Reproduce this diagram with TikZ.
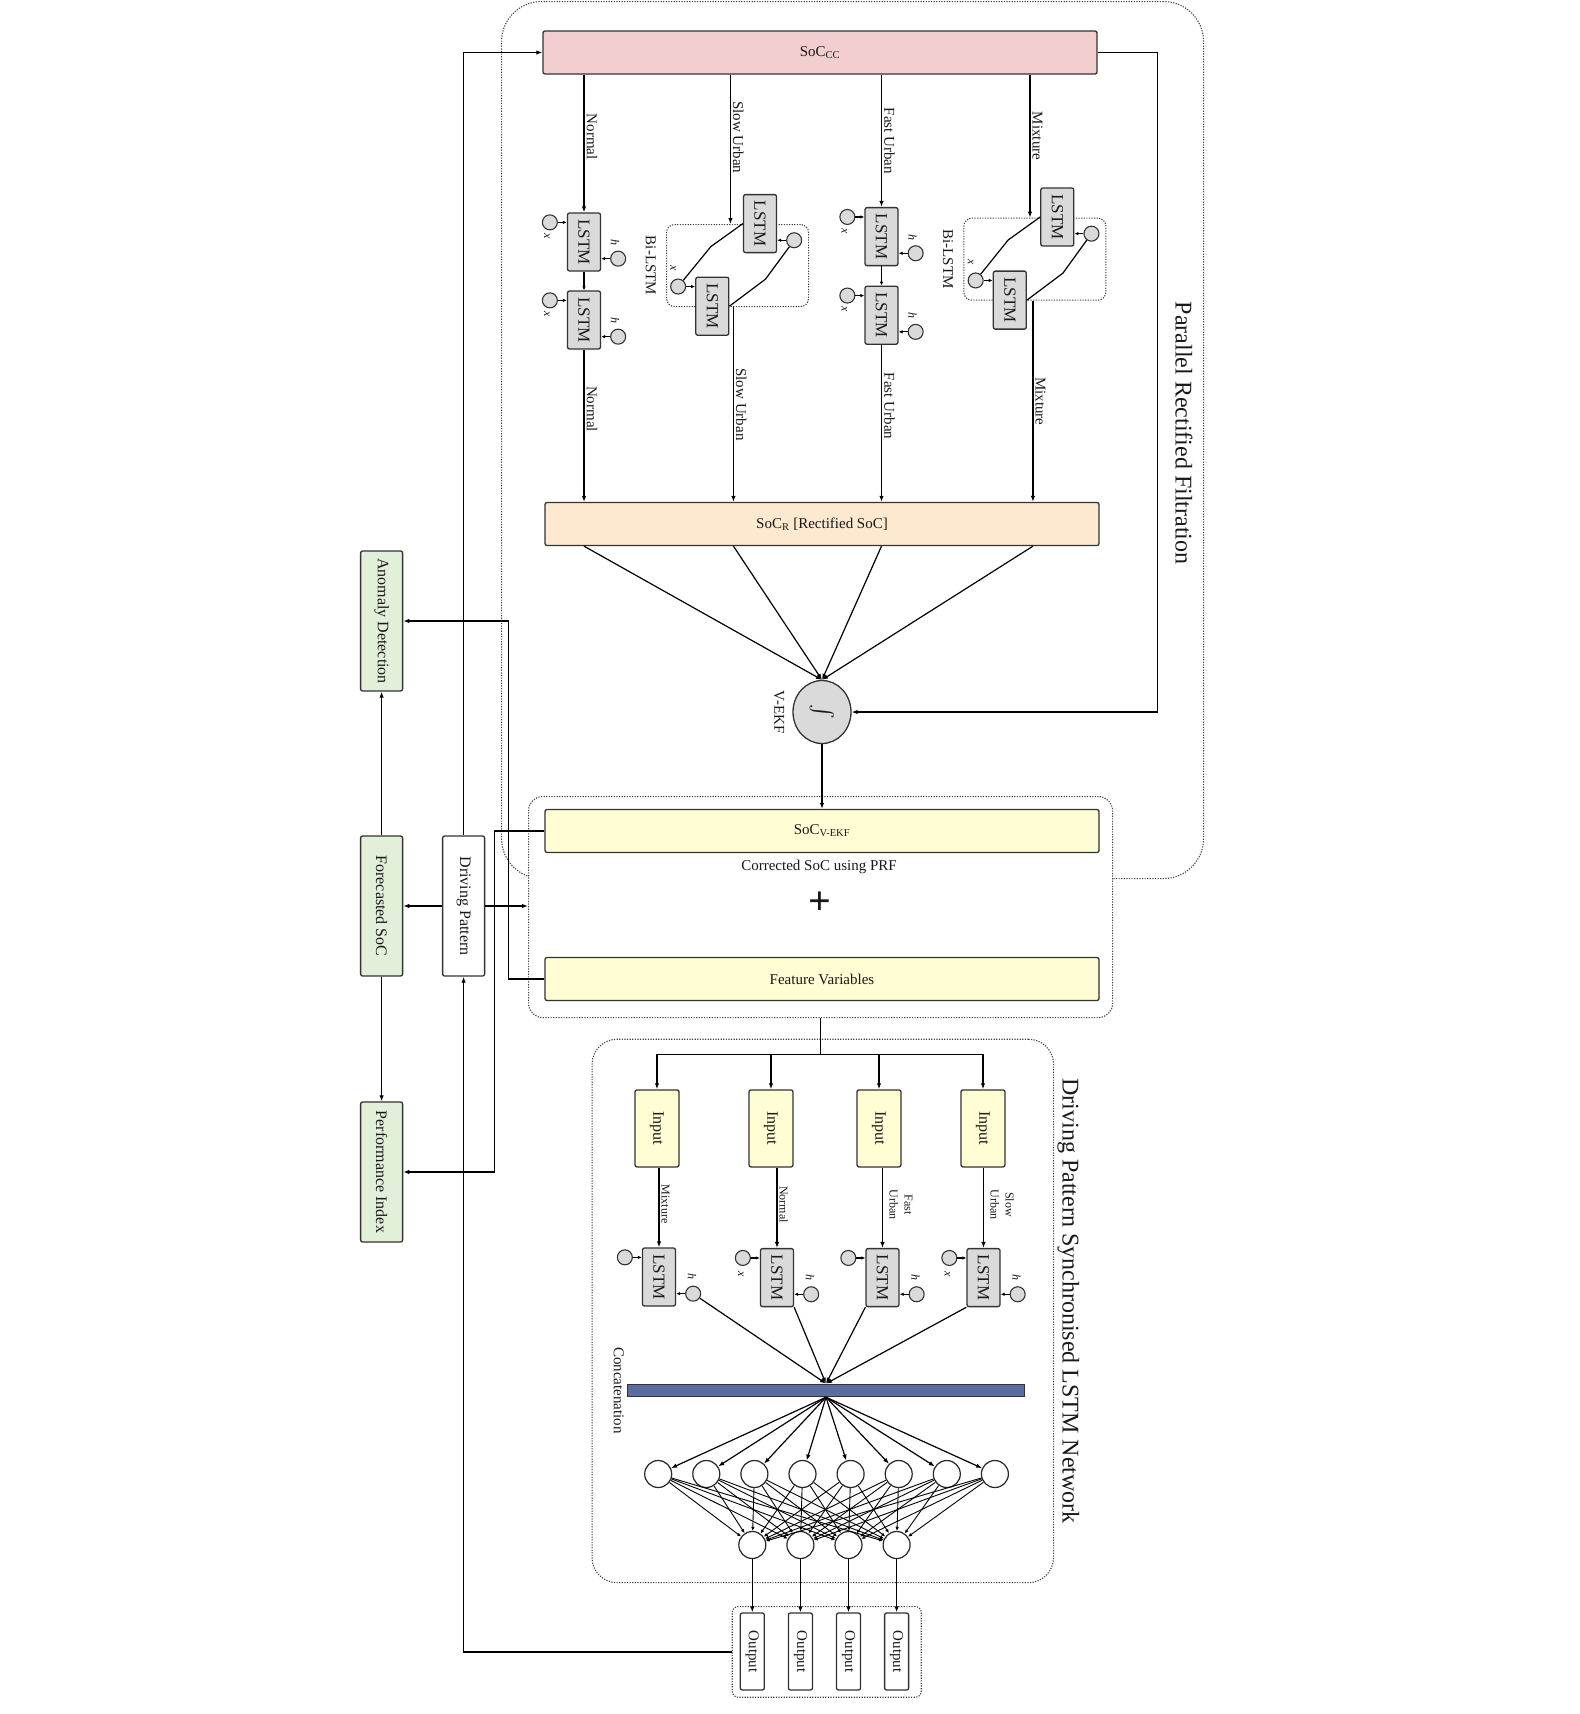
\documentclass[tikz,border=0pt]{standalone}
\usepackage{fontspec}
\setmainfont{Liberation Serif}
\usepackage{tikz}
\usetikzlibrary{arrows.meta,positioning,calc,shapes.geometric}
\definecolor{pinkfill}{RGB}{242,206,206}
\definecolor{peachfill}{RGB}{252,233,207}
\definecolor{yelfill}{RGB}{254,253,212}
\definecolor{grnfill}{RGB}{226,239,217}
\definecolor{cellfill}{RGB}{218,218,218}
\definecolor{barfill}{RGB}{91,108,158}
\newcommand{\fsz}[1]{\fontsize{#1}{#1}\selectfont}
\newcommand{\vtxt}[1]{\rotatebox{-90}{#1}}
\newcommand{\lstmcell}[2]{\node[lstm] (#1) at (#2) {\vtxt{LSTM}};}
\newcommand{\xport}[1]{%
  \node[port] (#1x) at ($(#1.north west)+(-17,10)$) {};
  \draw[tip] (#1x) -- (#1x -| #1.west);}
\newcommand{\hport}[1]{%
  \node[port] (#1h) at ($(#1.south east)+(17,-13)$) {};
  \draw[tip] (#1h) -- (#1h -| #1.east);}

\begin{document}
\begin{tikzpicture}[x=1pt, y=-1pt,
    every node/.style={font=\fsz{15}, text=black!90},
    box/.style={draw=black!80, line width=1.3pt, rounded corners=2pt, inner sep=0pt},
    wide/.style={box, minimum width=554, minimum height=43},
    lstm/.style={box, fill=cellfill, minimum width=33, minimum height=58, font=\fsz{17}},
    port/.style={circle, draw=black!80, line width=1.1pt, fill=cellfill, minimum size=15, inner sep=0pt},
    neuron/.style={circle, draw=black!85, line width=1.2pt, fill=white, minimum size=27, inner sep=0pt},
    gbox/.style={box, fill=grnfill, minimum width=42, minimum height=140, font=\fsz{16}},
    inbox/.style={box, fill=yelfill, minimum width=44, minimum height=77, font=\fsz{16}},
    outbox/.style={box, fill=white, minimum width=24, minimum height=77},
    grp/.style={draw=black!75, dash pattern=on 1.2pt off 1.4pt, line width=1.1pt, rounded corners=#1, inner sep=0pt},
    grp/.default=8pt,
    arr/.style={-{Latex[length=6pt,width=4.5pt]}, line width=1.2pt},
    tip/.style={-{Latex[length=4pt,width=3.5pt]}, line width=1.1pt},
    lnk/.style={line width=1.2pt},
    lbl/.style={inner sep=2pt},
    slbl/.style={inner sep=2pt, font=\fsz{12}},
    ttl/.style={font=\fsz{24}}
  ]
  \useasboundingbox (0,0) rectangle (1580,1714);

  % Parallel Rectified Filtration (top block)
  \node[grp=40pt, minimum width=702, minimum height=877, anchor=north west] (prf) at (501,1) {};
  \node[ttl] at (1184,433) {\vtxt{Parallel Rectified Filtration}};
  \node[wide, fill=pinkfill] (soccc) at (820,52.5) {SoC\textsubscript{CC}};
  \node[wide, fill=peachfill] (socr) at (822,524) {SoC\textsubscript{R} [Rectified SoC]};

  % stacked LSTM, normal and fast urban
  \lstmcell{L1a}{584,242} \xport{L1a} \hport{L1a}
  \lstmcell{L1b}{584,320} \xport{L1b} \hport{L1b}
  \lstmcell{L3a}{881.5,236.6} \xport{L3a} \hport{L3a}
  \lstmcell{L3b}{881.5,315.2} \xport{L3b} \hport{L3b}
  \draw[tip] (L1a) -- (L1b);
  \draw[tip] (L3a) -- (L3b);
  \foreach \cn in {L1a,L1b,L3a,L3b} {
    \node[slbl] at ($(\cn x)+(-3,14)$) {\vtxt{\textit{x}}};
    \node[slbl] at ($(\cn h)+(-3,-16)$) {\vtxt{\textit{h}}};
  }

  % Bi-LSTM, slow urban and mixture
  \node[grp, minimum width=142, minimum height=82, anchor=north west] (bi2) at (666,224) {};
  \node[grp, minimum width=142, minimum height=82, anchor=north west] (bi4) at (963.3,217.6) {};
  \node[lbl, left=8pt of bi2] {\vtxt{Bi-LSTM}};
  \node[lbl, left=8pt of bi4] {\vtxt{Bi-LSTM}};
  \lstmcell{L2u}{760,223.6} \lstmcell{L2d}{712.3,306.2} \xport{L2d} \hport{L2u}
  \lstmcell{L4u}{1057.3,217} \lstmcell{L4d}{1009.8,300.1} \xport{L4d} \hport{L4u}
  \draw[lnk] (L2u.west) -- ++(-32,23) -- (L2dx);
  \draw[lnk] (L2d.east) -- ++(36,-27) -- (L2uh);
  \draw[lnk] (L4u.west) -- ++(-32,23) -- (L4dx);
  \draw[lnk] (L4d.east) -- ++(36,-27) -- (L4uh);
  \node[slbl] at ($(L2dx)+(-5,-18)$) {\vtxt{\textit{x}}};
  \node[slbl] at ($(L4dx)+(-5,-18)$) {\vtxt{\textit{x}}};
  \coordinate (si2) at ([xshift=1pt]L2d.east);
  \coordinate (so2) at ([xshift=4pt]L2d.east);
  \coordinate (si4) at ([xshift=3pt]L4d.east);
  \coordinate (so4) at ([xshift=6pt]L4d.east);

  \draw[arr] (L1a.north |- soccc.south) -- node[lbl, right, pos=0.45] {\vtxt{Normal}} (L1a.north);
  \draw[arr] (si2 |- soccc.south) -- node[lbl, right, pos=0.42] {\vtxt{Slow Urban}} (si2 |- bi2.north);
  \draw[arr] (L3a.north |- soccc.south) -- node[lbl, right, pos=0.5] {\vtxt{Fast Urban}} (L3a.north);
  \draw[arr] (si4 |- soccc.south) -- node[lbl, right, pos=0.43] {\vtxt{Mixture}} (si4 |- bi4.north);

  \draw[arr] (L1b.south) -- node[lbl, right, pos=0.39] {\vtxt{Normal}} (L1b.south |- socr.north);
  \draw[arr] (so2 |- bi2.south) -- node[lbl, right, pos=0.5] {\vtxt{Slow Urban}} (so2 |- socr.north);
  \draw[arr] (L3b.south) -- node[lbl, right, pos=0.39] {\vtxt{Fast Urban}} (L3b.south |- socr.north);
  \draw[arr] (so4 |- bi4.south) -- node[lbl, right, pos=0.5] {\vtxt{Mixture}} (so4 |- socr.north);

  % V-EKF
  \node[ellipse, draw=black!80, line width=1.3pt, fill=cellfill, minimum width=58, minimum height=63, inner sep=0pt] (vekf) at (822,712) {\vtxt{\scalebox{2.2}{$\int$}}};
  \node[lbl, left=6pt of vekf] {\vtxt{V-EKF}};
  \foreach \cn in {L1b.south, so2, L3b.south, so4}
    \draw[arr] (\cn |- socr.south) -- (vekf.north);
  \draw[arr] (soccc.east) -- ++(60,0) |- (vekf.east);

  % corrected SoC + feature variables
  \node[grp=14pt, fill=white, minimum width=584, minimum height=221, anchor=north west] (corr) at (528,796) {};
  \node[wide, fill=yelfill] (socv) at (822,831) {SoC\textsubscript{V-EKF}};
  \node (prfnote) at (819,867) {Corrected SoC using PRF};
  \node[font=\fsz{40}] (plus) at (820,903) {\textbf{+}};
  \node[wide, fill=yelfill] (feat) at (822,979) {Feature Variables};
  \draw[arr] (vekf.south) -- (vekf.south |- socv.north);

  % outputs on the left
  \node[gbox] (anom) at (381.6,621) {\vtxt{Anomaly Detection}};
  \node[gbox] (fore) at (381.6,906) {\vtxt{Forecasted SoC}};
  \node[gbox] (perf) at (381.6,1172) {\vtxt{Performance Index}};
  \node[gbox, fill=white] (dp) at (463.6,906) {\vtxt{Driving Pattern}};

  \draw[arr] (dp.north) |- (soccc.west);
  \draw[arr] (dp.west) -- (fore.east);
  \draw[arr] (dp.east) -- (dp.east -| corr.west);
  \draw[arr] (fore) -- (anom);
  \draw[arr] (fore) -- (perf);
  \draw[arr] (feat.west) -- ++(-36,0) |- (anom.east);
  \draw[arr] (socv.west) -- ++(-50,0) |- (perf.east);

  % Driving Pattern Synchronised LSTM Network (bottom block)
  \node[grp=25pt, minimum width=461.5, minimum height=543.4, anchor=north west] (dps) at (591.5,1038.7) {};
  \node[ttl] at (1068.3,1301) {\vtxt{Driving Pattern Synchronised LSTM Network}};
  \draw[line width=1.6pt] (corr.south) -- ++(0,36) coordinate (split);
  \foreach \i/\x in {1/657,2/771,3/879,4/983}
    \node[inbox] (in\i) at (\x,1128.4) {\vtxt{Input}};
  \foreach \i in {1,...,4}
    \draw[arr] (split) -| (in\i.north);

  \lstmcell{B1}{659,1277} \xport{B1} \hport{B1}
  \lstmcell{B2}{777,1277.6} \xport{B2} \hport{B2}
  \lstmcell{B3}{882.5,1277.6} \xport{B3} \hport{B3}
  \lstmcell{B4}{983.5,1277.6} \xport{B4} \hport{B4}
  \foreach \cn in {B1,B2,B3,B4}
    \node[slbl] at ($(\cn h)+(-1,-17)$) {\vtxt{\textit{h}}};
  \foreach \cn in {B2,B4}
    \node[slbl] at ($(\cn x)+(-2,16)$) {\vtxt{\textit{x}}};

  \draw[arr] (B1.north |- in1.south) -- node[slbl, right, pos=0.46] {\vtxt{Mixture}} (B1.north);
  \draw[arr] (B2.north |- in2.south) -- node[slbl, right, pos=0.46] {\vtxt{Normal}} (B2.north);
  \draw[arr] (B3.north |- in3.south) -- node[slbl, right, pos=0.46, font=\fontsize{12}{15}\selectfont] {\vtxt{\begin{tabular}{@{}c@{}}Fast\\Urban\end{tabular}}} (B3.north);
  \draw[arr] (B4.north |- in4.south) -- node[slbl, right, pos=0.46, font=\fontsize{12}{15}\selectfont] {\vtxt{\begin{tabular}{@{}c@{}}Slow\\Urban\end{tabular}}} (B4.north);

  \node[draw=black!80, line width=1.2pt, fill=barfill, minimum width=397, minimum height=12.4, inner sep=0pt] (concat) at (826,1390.4) {};
  \node[lbl, left=1pt of concat] {\vtxt{Concatenation}};
  \draw[arr] (B1h) -- (concat.north);
  \draw[arr] (B2.south east) -- (concat.north);
  \draw[arr] (B3.south west) -- (concat.north);
  \draw[arr] (B4.south west) -- (concat.north);

  \foreach \i in {0,...,7}
    \node[neuron] (hd\i) at ({658.2+48.1*\i},1474) {};
  \foreach \j in {0,...,3}
    \node[neuron] (op\j) at ({752.3+48.1*\j},1545) {};
  \foreach \i in {0,...,7}
    \draw[arr] (concat.south) -- (hd\i);
  \foreach \i in {0,...,7}
    \foreach \j in {0,...,3}
      \draw[tip, line width=0.9pt] (hd\i) -- (op\j);

  % outputs
  \node[grp=6pt, minimum width=189, minimum height=90.7, anchor=north west] (outgrp) at (731.7,1606) {};
  \foreach \j in {0,...,3}
    \node[outbox] (ob\j) at ({752.3+48.1*\j},1651.5) {\vtxt{Output}};
  \foreach \j in {0,...,3}
    \draw[arr] (op\j) -- (ob\j);
  \draw[arr] (outgrp.west) -| (dp.south);
\end{tikzpicture}
\end{document}
